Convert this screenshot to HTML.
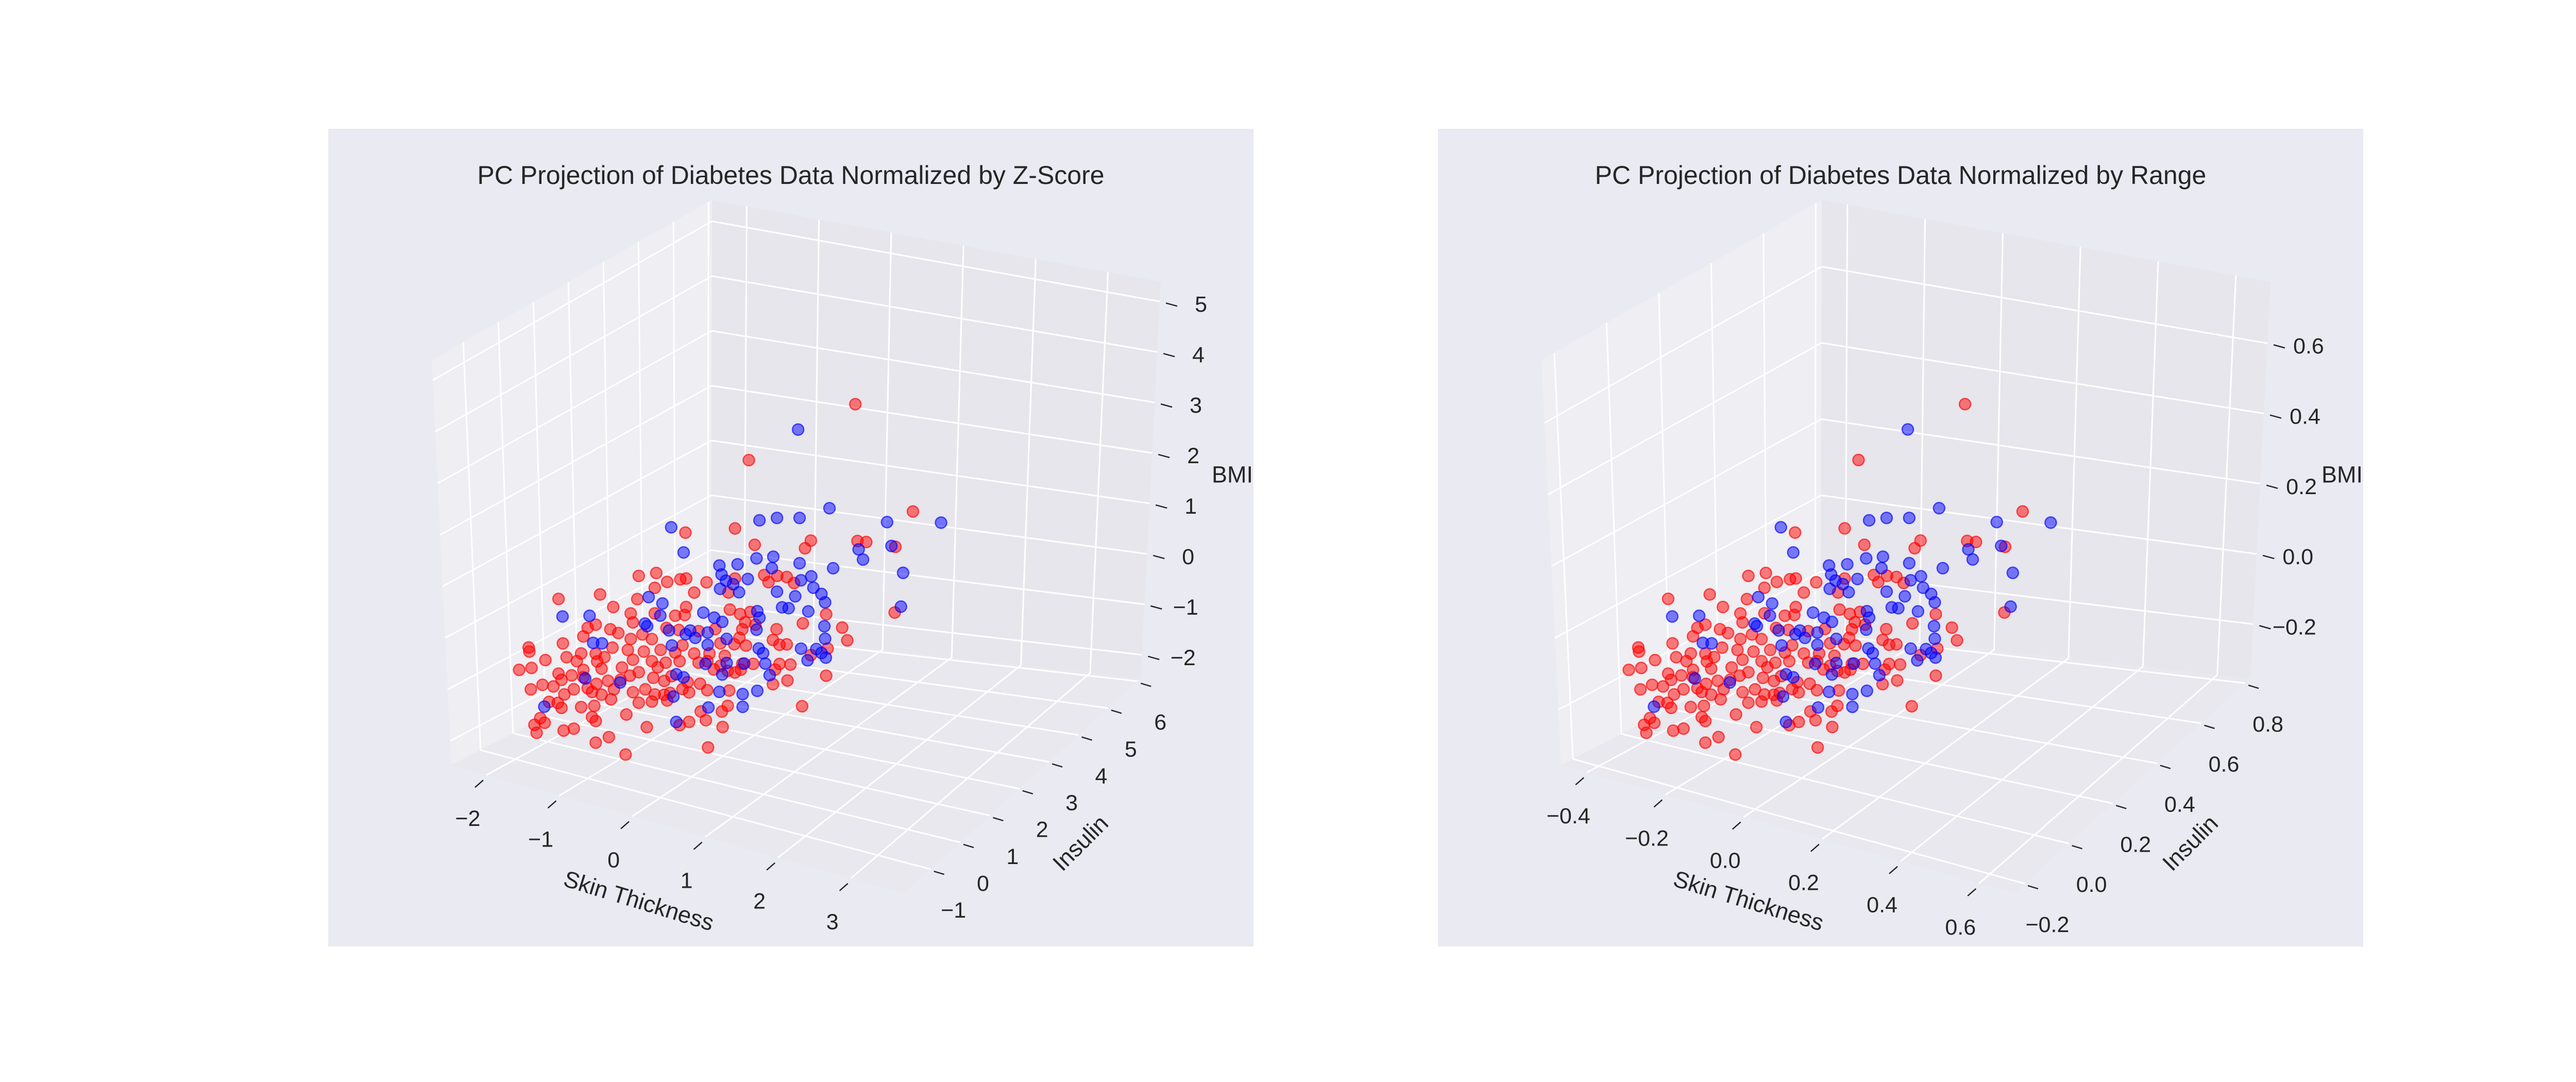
<!DOCTYPE html>
<html><head><meta charset="utf-8"><style>
html,body{margin:0;padding:0;background:#fff;}
svg{display:block;}
text{font-family:"Liberation Sans",Arial,sans-serif;fill:#262626;}
</style></head><body>
<svg id="fig" width="5100" height="2100" viewBox="0 0 5100 2100" xmlns="http://www.w3.org/2000/svg">
<rect x="0" y="0" width="5100" height="2100" fill="#ffffff"/>
<g id="p1"></g>
<g id="p2"></g>
</svg>
<script>
// ---- data (z-score normalized PC projection) ----
const redSkin = [2.29,0.83,3.08,-0.04,0.64,0.91,1.68,1.60,2.32,2.44,2.84,-0.44,-0.68,-0.29,-0.11,-0.03,0.25,0.64,1.04,1.22,1.35,1.10,1.45,-0.70,-0.46,0.08,0.55,2.83,-1.78,-1.21,-1.03,-0.79,-0.76,-0.46,-0.18,-0.03,-0.05,0.57,0.71,0.85,0.78,0.92,0.74,1.21,1.57,1.89,2.11,-1.38,-1.44,-1.27,-1.07,-0.96,-0.79,-0.63,-0.50,-0.30,-0.13,0.14,0.37,0.44,0.70,0.63,1.16,-2.19,-2.18,-1.72,-1.47,-1.27,-1.15,-1.04,-0.83,-0.61,-0.38,-0.18,-0.08,0.08,0.29,0.50,0.79,1.25,1.35,1.91,2.18,-2.32,-2.15,-1.96,-1.67,-1.53,-1.25,-1.44,-1.19,-0.91,-0.76,-0.50,-0.42,-0.31,-0.12,0.14,0.26,0.44,0.74,0.89,1.25,1.40,1.68,-1.78,-1.74,-1.60,-1.44,-1.26,-1.10,-0.93,-0.80,-0.68,-0.48,-0.33,-0.23,-0.01,0.16,0.35,0.54,0.64,0.72,1.19,1.36,1.89,-2.16,-2.00,-1.85,-1.70,-1.57,-1.38,-1.32,-1.19,-1.02,-0.76,-0.59,-0.46,-0.33,-0.25,-0.08,0.01,0.26,0.56,1.16,-1.91,-1.79,-1.74,-1.47,-1.29,-1.06,-0.68,-0.50,-0.29,0.54,0.46,1.56,0.17,-2.11,-2.03,-1.97,-2.08,-1.71,-1.57,-1.32,-1.27,-0.85,-0.12,0.01,0.24,0.47,-0.57,-1.27,-1.09,-0.86,0.27];
const redBmi = [5.84,4.09,3.99,2.25,2.62,2.40,2.81,2.62,3.07,3.10,3.17,1.26,1.10,1.14,1.27,1.32,1.36,1.60,1.84,1.90,1.93,1.72,1.85,0.62,0.95,1.08,1.28,1.83,0.17,0.50,0.32,0.29,0.12,0.43,0.50,0.74,0.57,0.94,0.91,1.01,0.77,0.78,0.61,0.81,1.08,1.40,1.22,-0.25,-0.45,-0.14,-0.15,-0.18,-0.23,-0.07,-0.11,0.20,0.23,0.32,0.46,0.20,0.42,0.26,0.57,-0.99,-1.07,-0.71,-0.81,-0.73,-0.75,-0.51,-0.47,-0.41,-0.28,-0.25,-0.06,-0.16,-0.07,-0.03,0.30,0.51,0.56,0.71,0.99,-1.50,-1.39,-1.15,-0.97,-0.99,-0.88,-1.13,-1.00,-0.86,-0.64,-0.56,-0.65,-0.51,-0.40,-0.32,-0.24,-0.26,-0.09,-0.03,0.12,0.17,0.48,-1.35,-1.46,-1.31,-1.28,-1.34,-1.21,-1.12,-0.98,-0.86,-0.89,-0.89,-0.75,-0.78,-0.74,-0.37,-0.32,-0.31,-0.22,-0.02,-0.17,0.15,-1.83,-1.67,-1.64,-1.74,-1.58,-1.48,-1.53,-1.53,-1.35,-1.30,-1.17,-1.22,-1.17,-1.10,-0.95,-0.98,-0.83,-0.71,-0.33,-1.98,-1.95,-2.03,-1.90,-1.80,-1.57,-1.48,-1.38,-1.27,-1.03,-1.18,-0.61,-1.30,-2.53,-2.36,-2.43,-2.68,-2.48,-2.38,-2.04,-2.10,-1.79,-1.70,-1.58,-1.45,-1.49,-1.93,-2.54,-2.35,-2.61,-1.99];
const redInsulin = redSkin.map(() => 0);
const blueSkin = [1.10,1.53,0.57,0.81,1.12,2.32,3.06,-0.64,1.93,2.38,1.99,-0.47,0.53,0.76,0.74,0.27,0.02,1.12,1.28,1.58,2.54,0.05,0.11,0.21,0.41,1.14,1.31,-0.95,0.03,0.29,0.81,1.42,1.47,1.06,0.88,0.97,2.51,-0.76,-1.00,-0.97,-0.79,-0.20,-0.05,0.06,0.54,0.57,0.53,1.24,1.46,1.47,-2.13,-1.76,-0.67,-0.44,-0.38,-0.14,-0.31,0.12,-1.71,-1.59,-0.63,-0.14,0.56,0.62,1.14,1.35,-0.17,0.12,0.36,0.65,1.23,1.42,1.48,-1.82,-1.34,-0.57,-0.47,0.06,0.71,-0.61,0.02,0.34,0.54,-2.38,-0.13,0.34,-0.57];
const blueBmi = [4.28,2.86,2.21,2.36,2.49,2.91,3.21,1.56,2.19,2.45,2.01,1.12,1.42,1.55,1.31,1.19,1.06,1.57,1.37,1.66,1.97,0.89,0.79,0.76,0.95,1.23,1.15,0.01,0.59,0.63,0.86,1.07,0.92,0.87,0.57,0.59,1.27,-0.04,-0.55,-0.59,-0.30,0.01,-0.03,-0.07,0.35,0.23,-0.03,0.64,0.43,0.18,-0.88,-0.71,-0.55,-0.53,-0.43,-0.37,-0.55,-0.39,-1.24,-1.20,-0.84,-0.62,-0.40,-0.47,-0.16,-0.08,-1.02,-0.88,-0.79,-0.67,-0.36,-0.13,-0.20,-2.01,-1.89,-1.40,-1.42,-1.14,-0.88,-1.87,-1.51,-1.42,-1.27,-2.82,-1.89,-1.68,-2.37];
const blueInsulin = blueSkin.map(() => 1);

// range-normalized projection (per-axis rescaling of the same components)
const rRedSkin = redSkin.map(v => v*0.186-0.005), rRedBmi = redBmi.map(v => v*0.1438), rRedIns = redInsulin.map(v => v*0.134+0.0057);
const rBlueSkin = blueSkin.map(v => v*0.186-0.005), rBlueBmi = blueBmi.map(v => v*0.1438), rBlueIns = blueInsulin.map(v => v*0.134+0.0057);

const zTicksX = [-2,-1,0,1,2,3], zTicksY = [-1,0,1,2,3,4,5,6], zTicksZ = [-2,-1,0,1,2,3,4,5];
const rTicksX = [-0.4,-0.2,0.0,0.2,0.4,0.6], rTicksY = [-0.2,0.0,0.2,0.4,0.6,0.8], rTicksZ = [-0.2,0.0,0.2,0.4,0.6];

const NS = "http://www.w3.org/2000/svg";
function mk(parent, tag, attrs){const e=document.createElementNS(NS,tag);for(const k in attrs)e.setAttribute(k,attrs[k]);parent.appendChild(e);return e;}
function fmt(v,dec){const s=Math.abs(v).toFixed(dec);return (v<-1e-9?"\u2212":"")+s;}

function drawPanel(g, dx, cfg){
  const C = {
    "000":[876,1485],"001":[838,699],"100":[1755,1734],"101":[1760,980],
    "110":[2214,1317],"111":[2253,547],"010":[1380,1224],"011":[1382,388]
  };
  for(const k in C) C[k]=[C[k][0]+dx,C[k][1]];
  function P(fx,fy,fz){
    let x=0,y=0;
    for(const i of [0,1])for(const j of [0,1])for(const k of [0,1]){
      const w=(i?fx:1-fx)*(j?fy:1-fy)*(k?fz:1-fz);
      const c=C[""+i+j+k]; x+=w*c[0]; y+=w*c[1];
    }
    return [x,y];
  }
  const fX=v=>(v-cfg.xr[0])/(cfg.xr[1]-cfg.xr[0]);
  const fY=v=>(v-cfg.yr[0])/(cfg.yr[1]-cfg.yr[0]);
  const fZ=v=>(v-cfg.zr[0])/(cfg.zr[1]-cfg.zr[0]);
  function Q(x,y,z){const a=fX(x),b=fY(y),c=fZ(z);return [876+dx+a*879+b*459, 1485+a*249-b*416-c*750];}

  const bg = mk(g,"rect",{x:637+dx,y:250,width:1796,height:1587,fill:"#EAEAF2"});
  
  
  const poly=(pts,fill,name)=>{const p=mk(g,"polygon",{points:pts.map(q=>q.join(",")).join(" "),fill:fill});
    
    };
  poly([C["000"],C["010"],C["011"],C["001"]],"#EEEEF3","left-pane");
  poly([C["010"],C["110"],C["111"],C["011"]],"#E6E6EC","back-pane");
  poly([C["000"],C["100"],C["110"],C["010"]],"#E8E8EE","floor-pane");
  const grid=mk(g,"g",{stroke:"#ffffff","stroke-width":3,fill:"none"});
  
  
  const line=(a,b,par)=>mk(par,"line",{x1:a[0],y1:a[1],x2:b[0],y2:b[1]});
  cfg.tx.forEach(t=>{const f=fX(t);line(P(f,0,0),P(f,1,0),grid);line(P(f,1,0),P(f,1,1),grid);});
  cfg.ty.forEach(t=>{const f=fY(t);line(P(0,f,0),P(1,f,0),grid);line(P(0,f,0),P(0,f,1),grid);});
  cfg.tz.forEach(t=>{const f=fZ(t);line(P(0,0,f),P(0,1,f),grid);line(P(0,1,f),P(1,1,f),grid);});

  const ticks=mk(g,"g",{stroke:"#262626","stroke-width":2.5});
  
  
  const lab=(x,y,s,name,extra)=>{const t=mk(g,"text",Object.assign({x:x,y:y,"font-size":43,"text-anchor":"middle","dominant-baseline":"central"},extra||{}));t.textContent=s;
    
    return t;};
  cfg.tx.forEach(t=>{const p=P(fX(t),0,0);line([p[0]-6,p[1]+10],[p[0]-22,p[1]+24],ticks);lab(p[0]-36,p[1]+85,fmt(t,cfg.dec),"x-tick-label");});
  cfg.ty.forEach(t=>{const p=P(1,fY(t),0);line([p[0]+6,p[1]+4],[p[0]+26,p[1]+10],ticks);lab(p[0]+44,p[1]+80,fmt(t,cfg.dec),"y-tick-label");});
  cfg.tz.forEach(t=>{const p=P(1,1,fZ(t));line([p[0]+12,p[1]+3],[p[0]+34,p[1]+9],ticks);lab(p[0]+80,p[1]+6,fmt(t,cfg.dec),"z-tick-label");});

  const tl=mk(g,"text",{x:1240+dx,y:1748,"font-size":45,"text-anchor":"middle","dominant-baseline":"central",transform:`rotate(17 ${1240+dx} 1748)`});tl.textContent="Skin Thickness";
  
  
  const il=mk(g,"text",{x:2097+dx,y:1636,"font-size":45,"text-anchor":"middle","dominant-baseline":"central",transform:`rotate(-45 ${2097+dx} 1636)`});il.textContent="Insulin";
  
  
  const bl=mk(g,"text",{x:2392+dx,y:921,"font-size":45,"text-anchor":"middle","dominant-baseline":"central"});bl.textContent="BMI";
  
  
  const tt=mk(g,"text",{x:1535+dx,y:340,"font-size":50,"text-anchor":"middle","dominant-baseline":"central"});tt.textContent=cfg.title;
  
  

  const pts=mk(g,"g",{});
  
  
  const dot=(x,y,z,col,name)=>{const q=Q(x,y,z);const c=mk(pts,"circle",{cx:q[0].toFixed(1),cy:q[1].toFixed(1),r:11,fill:col,"fill-opacity":0.5,stroke:col,"stroke-opacity":0.65,"stroke-width":2.5});
    
    };
  cfg.red[0].forEach((v,i)=>dot(v,cfg.red[1][i],cfg.red[2][i],"#ff0000","red-point"));
  cfg.blue[0].forEach((v,i)=>dot(v,cfg.blue[1][i],cfg.blue[2][i],"#0000ff","blue-point"));
}

drawPanel(document.getElementById("p1"),0,{
  title:"PC Projection of Diabetes Data Normalized by Z-Score",
  xr:[-2.48,3.73],yr:[-1.9,6.1],zr:[-2.47,5.39],tx:zTicksX,ty:zTicksY,tz:zTicksZ,dec:0,
  red:[redSkin,redInsulin,redBmi],blue:[blueSkin,blueInsulin,blueBmi]});
drawPanel(document.getElementById("p2"),2154,{
  title:"PC Projection of Diabetes Data Normalized by Range",
  xr:[-0.466,0.689],yr:[-0.249,0.823],zr:[-0.355,0.775],tx:rTicksX,ty:rTicksY,tz:rTicksZ,dec:1,
  red:[rRedSkin,rRedIns,rRedBmi],blue:[rBlueSkin,rBlueIns,rBlueBmi]});
</script>
</body></html>
